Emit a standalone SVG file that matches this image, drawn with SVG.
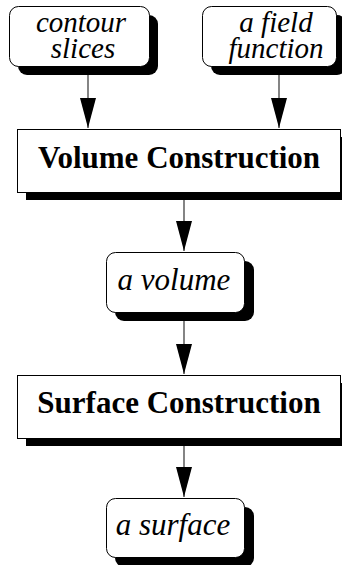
<svg xmlns="http://www.w3.org/2000/svg" width="342" height="565" viewBox="0 0 342 565">
<style>
.shadow{fill:#000;stroke:none}
.box{fill:#fff;stroke:#000;stroke-width:1}
.it{font-family:'Liberation Serif',serif;font-style:italic;font-size:31px;fill:#000;text-anchor:middle}
.it2{font-family:'Liberation Serif',serif;font-style:italic;font-size:29px;fill:#000;text-anchor:middle}
.bd{font-family:'Liberation Serif',serif;font-weight:bold;font-size:31px;fill:#000;text-anchor:middle}
.conn{stroke:#333;stroke-width:1.2;fill:none}
</style>
<defs>
<marker id="ah" markerUnits="userSpaceOnUse" markerWidth="30" markerHeight="16" refX="30" refY="8" orient="auto" viewBox="0 0 30 16">
<path d="M0,0 L30,8 L0,16 z" fill="#000"/>
</marker>
</defs>
<rect width="342" height="565" fill="#fff"/>
<g id="contour-slices">
<rect class="shadow" x="18" y="15" width="140" height="60" rx="9"/>
<rect class="box" x="9.5" y="6.5" width="140" height="60" rx="9"/>
<text class="it2" x="81" y="32" font-family="Liberation Serif, serif">contour</text>
<text class="it2" x="83" y="58" font-family="Liberation Serif, serif">slices</text>
</g>
<g id="field-function">
<rect class="shadow" x="211" y="15" width="135" height="60" rx="9"/>
<rect class="box" x="202.5" y="6.5" width="134" height="60" rx="9"/>
<text class="it2" x="276" y="32" font-family="Liberation Serif, serif">a field</text>
<text class="it2" x="276" y="58" font-family="Liberation Serif, serif">function</text>
</g>
<g id="volume-construction">
<rect class="shadow" x="26" y="137" width="324" height="63"/>
<rect class="box" x="17.5" y="129.5" width="323" height="63"/>
<text class="bd" x="179" y="168" font-family="Liberation Serif, serif">Volume Construction</text>
</g>
<g id="a-volume">
<rect class="shadow" x="115" y="261" width="139" height="60" rx="9"/>
<rect class="box" x="106.5" y="252.5" width="138" height="60" rx="9"/>
<text class="it" x="174" y="290" font-family="Liberation Serif, serif">a volume</text>
</g>
<g id="surface-construction">
<rect class="shadow" x="26" y="383" width="324" height="63"/>
<rect class="box" x="17.5" y="375.5" width="323" height="63"/>
<text class="bd" x="179" y="413" font-family="Liberation Serif, serif">Surface Construction</text>
</g>
<g id="a-surface">
<rect class="shadow" x="115" y="507" width="139" height="60" rx="9"/>
<rect class="box" x="106.5" y="498.5" width="138" height="59" rx="9"/>
<text class="it" x="173" y="535" font-family="Liberation Serif, serif">a surface</text>
</g>
<g id="connectors">
<line class="conn" x1="88" y1="75" x2="88" y2="128" marker-end="url(#ah)"/>
<line class="conn" x1="279" y1="75" x2="279" y2="128" marker-end="url(#ah)"/>
<line class="conn" x1="184" y1="200" x2="184" y2="251" marker-end="url(#ah)"/>
<line class="conn" x1="184" y1="321" x2="184" y2="374" marker-end="url(#ah)"/>
<line class="conn" x1="184" y1="446" x2="184" y2="497" marker-end="url(#ah)"/>
</g>
</svg>
